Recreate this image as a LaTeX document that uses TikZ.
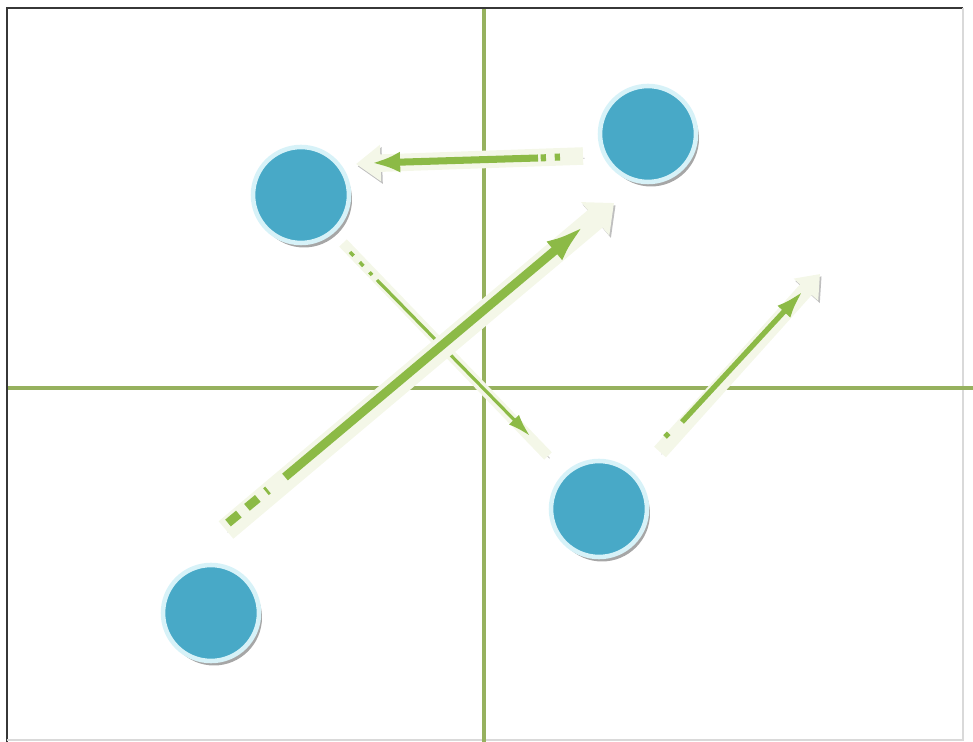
\documentclass[tikz,border=0pt]{standalone}
\usepackage{tikz}
\usetikzlibrary{positioning,arrows.meta,shadows}

\definecolor{ballblue}{RGB}{72,169,199}
\definecolor{ringblue}{RGB}{215,242,248}
\definecolor{axisgreen}{RGB}{150,177,94}
\definecolor{arrowgreen}{RGB}{140,186,70}
\definecolor{cream}{RGB}{244,247,232}
\definecolor{framegray}{RGB}{55,55,55}

\begin{document}
\begin{tikzpicture}[
			x=0.02cm,y=-0.02cm,
			ball/.style={
				circle,
				fill=ballblue,
				draw=ringblue,
				line width=2.6pt,
				minimum size=1.92cm,
				inner sep=0pt,
				drop shadow={shadow xshift=0.06cm,shadow yshift=-0.09cm,fill=gray!70,opacity=1}
			},
			axis/.style={draw=axisgreen,line width=2.3pt},
			band/.style={
				draw=cream,
				line cap=butt,
				preaction={draw=gray!50,transform canvas={xshift=0.9pt,yshift=-1.3pt}}
			},
			arrow/.style={draw=arrowgreen,line cap=butt},
			tailmark/.style={draw=arrowgreen,line cap=butt,dash pattern=on 3pt off 5pt}
			]
			
			\useasboundingbox (0,0) rectangle (973,742);
			
			\draw[framegray,line width=1.5pt] (7,742) -- (7,8) -- (963,8);
			\draw[gray!30,line width=0.8pt] (963,8) -- (963,740) -- (7,740);
			
			\coordinate (vtop) at (484,9);
			\coordinate (vbot) at (484,742);
			\coordinate (hleft) at (8,388);
			\coordinate (hright) at (973,388);
			\draw[axis] (vtop) -- (vbot);
			\draw[axis] (hleft) -- (hright);
			
			\node[ball] (tl) at (301,195) {};
			\node[ball] (tr) at (648,134) {};
			\node[ball] (br) at (599,509) {};
			\node[ball] (bl) at (211,613) {};
			
			% arrow from upper right to upper left
			\coordinate (b1s) at (583,156);
			\coordinate (b1e) at (356,164);
			\coordinate (m1s) at (560,157);
			\coordinate (m1e) at (540,158);
			\coordinate (a1s) at (538,158);
			\coordinate (a1e) at (372,163);
			\draw[band,line width=10pt,-{Triangle[length=14pt,width=20pt]}] (b1s) -- (b1e);
			\draw[tailmark,line width=4pt] (m1s) -- (m1e);
			\draw[arrow,line width=4pt,-{Latex[length=16pt,width=12pt]}] (a1s) -- (a1e);
			
			% arrow from upper left to lower right
			\coordinate (b2s) at (343,243);
			\coordinate (b2e) at (548,456);
			\coordinate (m2s) at (350,252);
			\coordinate (m2e) at (372,275);
			\coordinate (a2s) at (377,280);
			\coordinate (a2e) at (530,436);
			\draw[band,line width=6pt] (b2s) -- (b2e);
			\draw[tailmark,line width=2pt] (m2s) -- (m2e);
			\draw[arrow,line width=1.8pt,-{Latex[length=13pt,width=8pt]}] (a2s) -- (a2e);
			
			% long arrow from lower left to upper right
			\coordinate (b3s) at (226,530);
			\coordinate (b3e) at (614,203);
			\coordinate (m3s) at (228,523);
			\coordinate (m3e) at (268,490);
			\coordinate (a3s) at (285,477);
			\coordinate (a3e) at (584,226);
			\draw[band,line width=13pt,-{Triangle[length=14pt,width=24pt]}] (b3s) -- (b3e);
			\draw[tailmark,line width=5pt,dash pattern=on 8pt off 6pt] (m3s) -- (m3e);
			\draw[arrow,line width=5pt,-{Latex[length=22pt,width=14pt]}] (a3s) -- (a3e);
			
			% arrow from lower right to the right
			\coordinate (b4s) at (660,452);
			\coordinate (b4e) at (820,274);
			\coordinate (m4s) at (665,437);
			\coordinate (m4e) at (674,428);
			\coordinate (a4s) at (682,422);
			\coordinate (a4e) at (803,291);
			\draw[band,line width=9pt,-{Triangle[length=12pt,width=18pt]}] (b4s) -- (b4e);
			\draw[tailmark,line width=3pt] (m4s) -- (m4e);
			\draw[arrow,line width=3pt,-{Latex[length=16pt,width=10pt]}] (a4s) -- (a4e);
			
		\end{tikzpicture}
\end{document}
